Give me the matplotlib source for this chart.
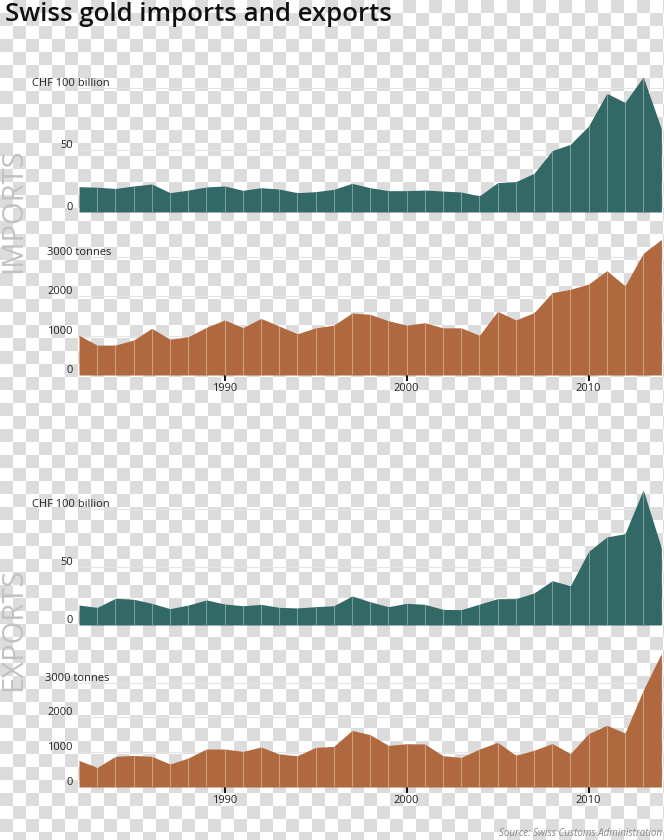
import numpy as np
import matplotlib
matplotlib.use("Agg")
import matplotlib.pyplot as plt

years = list(range(1982, 2015))

imports_value = [20.4, 20.0, 19.0, 21.0, 22.6, 15.6, 17.7, 20.2, 21.0, 17.5,
                 19.6, 18.5, 15.6, 16.4, 18.3, 23.1, 19.6, 17.2, 17.2, 17.7,
                 16.9, 16.1, 13.0, 23.7, 24.5, 31.2, 49.5, 54.6, 69.4, 95.7,
                 88.4, 109.0, 67.0]
imports_tonnes = [1010, 760, 763, 890, 1188, 908, 975, 1213, 1400, 1205,
                  1440, 1245, 1050, 1200, 1270, 1577, 1543, 1380, 1270, 1330,
                  1200, 1200, 1010, 1620, 1400, 1585, 2095, 2180, 2315, 2655,
                  2270, 3095, 3450]
exports_value = [17.2, 15.2, 23.0, 22.2, 18.7, 14.1, 17.2, 21.6, 18.1, 16.6,
                 17.8, 15.2, 14.7, 15.8, 16.6, 25.0, 20.0, 15.8, 18.7, 17.8,
                 13.5, 13.2, 18.0, 22.7, 22.7, 27.6, 38.2, 33.9, 63.4, 75.9,
                 78.7, 116.6, 66.4]
exports_tonnes = [764, 563, 880, 908, 880, 661, 833, 1092, 1092, 1023,
                  1149, 948, 900, 1138, 1167, 1626, 1503, 1195, 1244, 1236,
                  900, 850, 1090, 1284, 911, 1055, 1250, 960, 1534, 1774,
                  1552, 2780, 3840]

value_ticks = [0, 50, 100]
tonne_ticks = [0, 1000, 2000, 3000]
year_ticks = [1990, 2000, 2010]

TEAL = "#326865"
BROWN = "#b0693e"

plt.rcParams['font.family'] = ['Open Sans', 'DejaVu Sans']

W, H = 664, 840
fig = plt.figure(figsize=(W / 100, H / 100), dpi=100)

# checkerboard "transparency" background
sq = 13
yy, xx = np.mgrid[0:H, 0:W]
board = ((yy // sq + xx // sq) % 2).astype(float)
img = np.where(board[..., None] == 1, np.array([220, 220, 220]) / 255, np.array([1.0, 1.0, 1.0]))
fig.figimage(img, 0, 0, origin='upper', zorder=-10)

LEFT = 79
PX_PER_YEAR = 18.2
xmax = 1982 + (W - LEFT) / PX_PER_YEAR


def add_ax(bottom_px, top_px):
    ax = fig.add_axes([LEFT / W, 1 - bottom_px / H, (W - LEFT) / W, (bottom_px - top_px) / H])
    ax.set_facecolor('none')
    ax.patch.set_alpha(0)
    for s in ax.spines.values():
        s.set_visible(False)
    ax.set_xlim(1982, xmax)
    ax.set_yticks([])
    ax.set_zorder(5)
    return ax


def draw_panel(ax, vals, color, ticks, top_label, top_offset, show_x):
    for t in ticks:
        ax.axhline(t, color='#e4e4e4', lw=0.8, zorder=1)
    ax.fill_between(years, 0, vals, color=color, lw=0, zorder=2)
    ax.vlines(years[1:-1], 0, vals[1:-1], color='white', alpha=0.35, lw=0.8, zorder=3)
    for t in ticks[:-1]:
        ax.annotate(f"{t}", xy=(0, t), xycoords=('axes fraction', 'data'),
                    xytext=(-6, 2), textcoords='offset pixels', ha='right', va='baseline',
                    fontsize=8, color='#222222', annotation_clip=False)
    ax.annotate(top_label, xy=(0, ticks[-1]), xycoords=('axes fraction', 'data'),
                xytext=(top_offset, 2), textcoords='offset pixels', ha='left', va='baseline',
                fontsize=8, color='#222222', annotation_clip=False)
    if show_x:
        ax.set_xticks(year_ticks)
        ax.set_xticklabels([str(y) for y in year_ticks])
        ax.tick_params(axis='x', direction='out', length=4, width=1.3, color='black',
                       labelsize=8, labelcolor='#222222', pad=2)
    else:
        ax.set_xticks([])


ax1 = add_ax(212, 212 - 110 * 1.24)
ax1.set_ylim(0, 110)
draw_panel(ax1, imports_value, TEAL, value_ticks, "CHF 100 billion", -47, False)

ax2 = add_ax(375, 375 - 3500 * 0.0393)
ax2.set_ylim(0, 3500)
draw_panel(ax2, imports_tonnes, BROWN, tonne_ticks, "3000 tonnes", -32, True)

ax3 = add_ax(625, 625 - 120 * 1.16)
ax3.set_ylim(0, 120)
draw_panel(ax3, exports_value, TEAL, value_ticks, "CHF 100 billion", -47, False)

ax4 = add_ax(787, 787 - 4000 * 0.0348)
ax4.set_ylim(0, 4000)
draw_panel(ax4, exports_tonnes, BROWN, tonne_ticks, "3000 tonnes", -34, True)

fig.text(5 / W, 1 - 2 / H, "Swiss gold imports and exports", ha='left', va='top',
         fontsize=18.5, fontweight='semibold', color='#111111')
fig.text(14 / W, 1 - 211 / H, "IMPORTS", rotation=90, ha='center', va='center',
         fontsize=21, color='#c2c2c2')
fig.text(14 / W, 1 - 629 / H, "EXPORTS", rotation=90, ha='center', va='center',
         fontsize=21, color='#c2c2c2')
fig.text(662 / W, 1 - 834 / H, "Source: Swiss Customs Administration", ha='right', va='center',
         fontsize=7, style='italic', color='#888888')

fig.savefig("out.png", dpi=100)
